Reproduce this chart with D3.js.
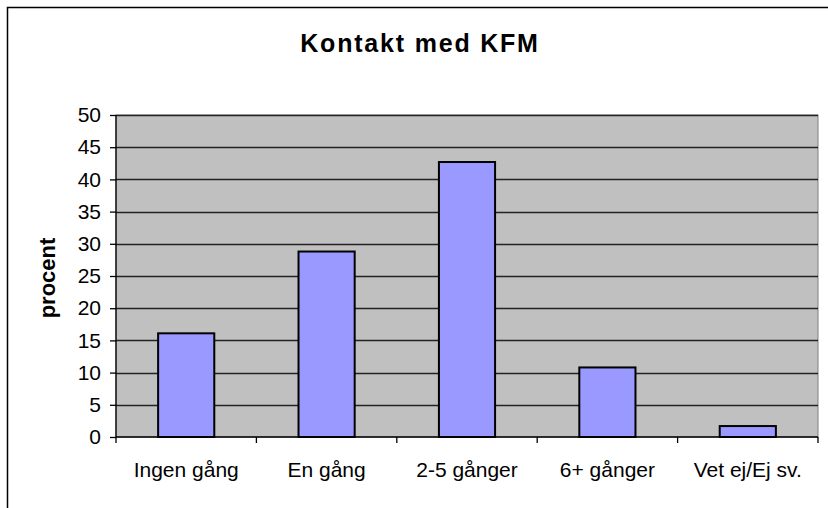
<!DOCTYPE html>
<html>
<head>
<meta charset="utf-8">
<script src="https://cdn.jsdelivr.net/npm/d3@7"></script>
<style>
  body { margin: 0; background: #fff; }
  svg { display: block; font-family: "Liberation Sans", Arial, sans-serif; }
</style>
</head>
<body>
<div id="chart"></div>
<script>
// data
var categories = ["Ingen gång", "En gång", "2-5 gånger", "6+ gånger", "Vet ej/Ej sv."];
var values = [16.1, 28.8, 42.7, 10.8, 1.7];
var yTicks = [0, 5, 10, 15, 20, 25, 30, 35, 40, 45, 50];

var W = 828, H = 508;
var plot = { left: 116, top: 115, right: 818, bottom: 437 };

var svg = d3.select("#chart").append("svg")
    .attr("width", W)
    .attr("height", H);

// outer frame (runs off the right and bottom)
svg.append("rect")
    .attr("x", 7.5).attr("y", 7.5)
    .attr("width", W + 10).attr("height", H + 10)
    .attr("fill", "#fff")
    .attr("stroke", "#000")
    .attr("stroke-width", 1.5);

var x = d3.scaleBand()
    .domain(categories)
    .range([plot.left, plot.right])
    .paddingInner(0.6)
    .paddingOuter(0.3);

var xCat = d3.scaleBand()
    .domain(categories)
    .range([plot.left, plot.right]);

var y = d3.scaleLinear()
    .domain([0, 50])
    .range([plot.bottom, plot.top]);

// plot background
svg.append("rect")
    .attr("x", plot.left).attr("y", plot.top)
    .attr("width", plot.right - plot.left)
    .attr("height", plot.bottom - plot.top)
    .attr("fill", "#c0c0c0")
    .attr("stroke", "#808080")
    .attr("stroke-width", 1);

// gridlines
svg.append("g").selectAll("line")
    .data(yTicks.filter(function (d) { return d > 0; }))
    .enter().append("line")
    .attr("x1", plot.left).attr("x2", plot.right)
    .attr("y1", function (d) { return Math.round(y(d)) + 0.5; })
    .attr("y2", function (d) { return Math.round(y(d)) + 0.5; })
    .attr("stroke", "#222")
    .attr("stroke-width", 1.3);

// bars
svg.append("g").selectAll("rect")
    .data(values)
    .enter().append("rect")
    .attr("x", function (d, i) { return x(categories[i]); })
    .attr("y", function (d) { return y(d); })
    .attr("width", x.bandwidth())
    .attr("height", function (d) { return y(0) - y(d); })
    .attr("fill", "#9999ff")
    .attr("stroke", "#000")
    .attr("stroke-width", 2);

// y axis
var yAxis = d3.axisLeft(y)
    .tickValues(yTicks)
    .tickSize(6)
    .tickPadding(9);
var gy = svg.append("g")
    .attr("transform", "translate(" + plot.left + ",0)")
    .call(yAxis);
gy.select(".domain").attr("d", "M0," + plot.top + "V" + plot.bottom)
    .attr("stroke", "#000").attr("stroke-width", 1.3);
gy.selectAll(".tick line").attr("stroke", "#000").attr("stroke-width", 1.3);
gy.selectAll(".tick text")
    .attr("font-size", 21)
    .attr("fill", "#000")
    .attr("font-family", "Liberation Sans, Arial, sans-serif");

// x axis
var xAxis = d3.axisBottom(xCat).tickSize(0).tickPadding(25);
var gx = svg.append("g")
    .attr("transform", "translate(0," + plot.bottom + ")")
    .call(xAxis);
gx.select(".domain").attr("d", "M" + plot.left + ",0H" + plot.right)
    .attr("stroke", "#000").attr("stroke-width", 1.3);
gx.selectAll(".tick text")
    .attr("font-size", 21)
    .attr("fill", "#000")
    .attr("font-family", "Liberation Sans, Arial, sans-serif");

// category boundary ticks
var bounds = categories.map(function (c) { return xCat(c); }).concat([plot.right]);
gx.selectAll(".bound")
    .data(bounds)
    .enter().append("line")
    .attr("class", "bound")
    .attr("x1", function (d) { return d; })
    .attr("x2", function (d) { return d; })
    .attr("y1", 0).attr("y2", 6)
    .attr("stroke", "#000")
    .attr("stroke-width", 1.3);

// title
svg.append("text")
    .attr("x", 420).attr("y", 52)
    .attr("text-anchor", "middle")
    .attr("font-size", 25)
    .attr("font-weight", "bold")
    .attr("letter-spacing", 1.8)
    .text("Kontakt med KFM");

// y label
svg.append("text")
    .attr("transform", "translate(55,278) rotate(-90)")
    .attr("text-anchor", "middle")
    .attr("font-size", 22)
    .attr("font-weight", "bold")
    .text("procent");
</script>
</body>
</html>
